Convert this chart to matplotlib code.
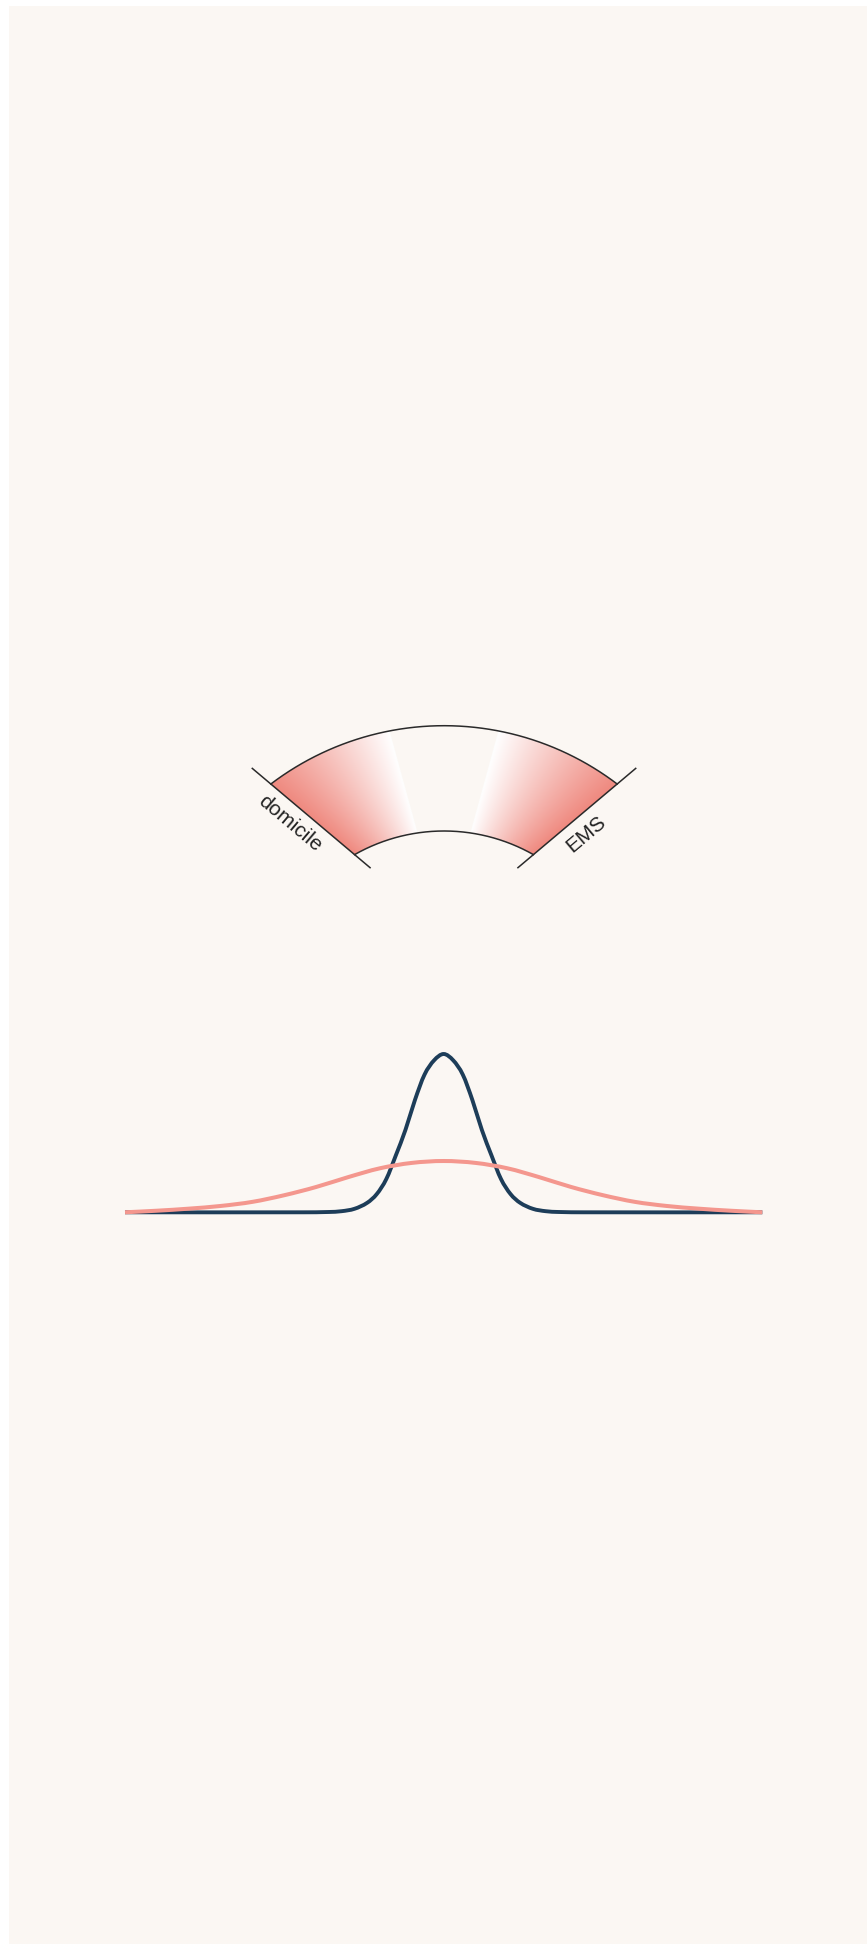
import numpy as np
import matplotlib
matplotlib.use("Agg")
import matplotlib.pyplot as plt
from matplotlib.path import Path
from matplotlib.patches import PathPatch, Rectangle

# ---- data -------------------------------------------------------------
categories = ["domicile", "EMS"]

# narrow distribution (position 0-100, relative density)
narrow_x = [0, 28, 32, 34, 36, 38, 39.5, 41, 42.5, 44, 45.5, 47, 48.5, 50,
            51.5, 53, 54.5, 56, 57.5, 59, 60.5, 62, 64, 66, 68, 72, 100]
narrow_y = [0, 0, 0.002, 0.007, 0.022, 0.06, 0.115, 0.21, 0.36, 0.52, 0.71,
            0.87, 0.96, 1.0, 0.96, 0.87, 0.71, 0.52, 0.36, 0.21, 0.115,
            0.06, 0.022, 0.007, 0.002, 0, 0]

# wide distribution
wide_x = [0, 5, 10, 15, 20, 25, 30, 35, 40, 45, 50,
          55, 60, 65, 70, 75, 80, 85, 90, 95, 100]
wide_y = [0, 0.010, 0.023, 0.040, 0.066, 0.108, 0.160, 0.222, 0.278, 0.312,
          0.324, 0.312, 0.278, 0.222, 0.160, 0.108, 0.066, 0.040, 0.023,
          0.010, 0]

# ---- style ------------------------------------------------------------
W, H = 867, 1944
CREAM = "#fbf7f3"
RED = np.array([239, 137, 127]) / 255.0
NAVY = "#1d3d59"
SALMON = "#f4978e"
INK = "#2a2a2a"
FONT = "Liberation Sans"


def smooth_path(xs, ys):
    """Cardinal (Catmull-Rom) cubic through the points, as a Bezier path."""
    x = np.asarray(xs, float)
    y = np.asarray(ys, float)
    h = np.diff(x)
    m = np.zeros_like(x)
    m[1:-1] = (y[2:] - y[:-2]) / (x[2:] - x[:-2])
    m[0] = (y[1] - y[0]) / h[0]
    m[-1] = (y[-1] - y[-2]) / h[-1]
    verts = [(x[0], y[0])]
    codes = [Path.MOVETO]
    for i in range(len(x) - 1):
        verts += [(x[i] + h[i] / 3, y[i] + m[i] * h[i] / 3),
                  (x[i + 1] - h[i] / 3, y[i + 1] - m[i + 1] * h[i] / 3),
                  (x[i + 1], y[i + 1])]
        codes += [Path.CURVE4] * 3
    return Path(verts, codes)


fig = plt.figure(figsize=(W / 100, H / 100), dpi=100, facecolor="white")

# ---- gauge (pixel-space canvas) ---------------------------------------
ax = fig.add_axes([0, 0, 1, 1])
ax.set_xlim(0, W)
ax.set_ylim(H, 0)
ax.axis("off")
ax.patch.set_alpha(0)
ax.add_patch(Rectangle((9, 6), W - 9, H - 6, facecolor=CREAM,
                       edgecolor="none", zorder=0))

hx, hy = 444.0, 930.0          # point where the side edges converge
edge = np.radians(49.87)       # side edge angle from vertical
split = np.radians(15.3)       # end of each coloured band
cx, cy = 444.0, 1012.0         # centre of the two arcs
r_out, r_in = 286.3, 181.0
k = cy - hy


def edge_dist(r):
    return -k * np.cos(edge) + np.sqrt(k * k * np.cos(edge) ** 2 - k * k + r * r)


def along(side, s, off=0.0):
    ux, uy = side * np.sin(edge), -np.cos(edge)
    nx, ny = side * np.cos(edge), np.sin(edge)
    return hx + ux * s + nx * off, hy + uy * s + ny * off


s_out, s_in = edge_dist(r_out), edge_dist(r_in)
px, py = along(1, s_out)
a_out = np.arctan2(px - cx, cy - py)
px, py = along(1, s_in)
a_in = np.arctan2(px - cx, cy - py)

t_out = np.linspace(-a_out, a_out, 300)
t_in = np.linspace(a_in, -a_in, 300)
ox, oy = cx + r_out * np.sin(t_out), cy - r_out * np.cos(t_out)
ix, iy = cx + r_in * np.sin(t_in), cy - r_in * np.cos(t_in)
verts = np.vstack([np.column_stack([ox, oy]), np.column_stack([ix, iy]),
                   [[ox[0], oy[0]]]])
codes = [Path.MOVETO] + [Path.LINETO] * (len(verts) - 2) + [Path.CLOSEPOLY]
band = PathPatch(Path(verts, codes), facecolor="none", edgecolor="none")
ax.add_patch(band)

# angular gradient: white at the split, red at the side edges
x0, x1, y0, y1 = 240, 650, 715, 875
gx, gy = np.meshgrid(np.linspace(x0, x1, (x1 - x0) * 2),
                     np.linspace(y0, y1, (y1 - y0) * 2))
phi = np.abs(np.arctan2(gx - hx, hy - gy))
t = np.clip((phi - split) / (edge - split), 0, 1)[..., None]
img = np.concatenate([(1 - t) * 1.0 + t * RED,
                      (phi >= split)[..., None].astype(float)], axis=2)
im = ax.imshow(img, extent=(x0, x1, y1, y0), origin="upper",
               interpolation="bilinear", aspect="auto", zorder=2)
im.set_clip_path(band)
ax.set_xlim(0, W)
ax.set_ylim(H, 0)

ax.plot(ox, oy, color=INK, lw=1.1, zorder=3)
ax.plot(ix[::-1], iy[::-1], color=INK, lw=1.1, zorder=3)
for side in (-1, 1):
    ex0, ey0 = along(side, s_in - 21)
    ex1, ey1 = along(side, s_out + 25)
    ax.plot([ex0, ex1], [ey0, ey1], color=INK, lw=1.1, zorder=3,
            solid_capstyle="butt")

rot = 90 - np.degrees(edge)
for side, name, ha in ((-1, categories[0], "right"), (1, categories[1], "left")):
    tx, ty = along(side, 148, 18)
    ax.text(tx, ty, name, rotation=side * rot, rotation_mode="anchor",
            ha=ha, va="center", fontsize=15, family=FONT, color="#222222",
            zorder=4)

# ---- distributions ----------------------------------------------------
ax2 = fig.add_axes([125 / W, (H - 1212.3) / H, 637.3 / W, 158.3 / H])
ax2.set_xlim(0, 100)
ax2.set_ylim(0, 1)
ax2.axis("off")
ax2.patch.set_alpha(0)
ax2.add_patch(PathPatch(smooth_path(narrow_x, narrow_y), facecolor="none",
                        edgecolor=NAVY, lw=2.8, capstyle="butt",
                        clip_on=False, zorder=2))
ax2.add_patch(PathPatch(smooth_path(wide_x, wide_y), facecolor="none",
                        edgecolor=SALMON, lw=2.9, capstyle="butt",
                        clip_on=False, zorder=3))

fig.savefig("out.png", dpi=100, facecolor=fig.get_facecolor())
